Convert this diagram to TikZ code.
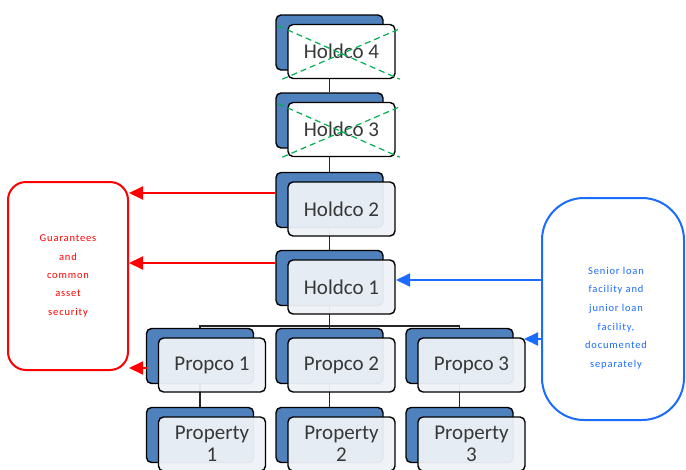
\documentclass[tikz,border=0pt]{standalone}
\usepackage{fontspec}
\setmainfont{Carlito}
\newfontfamily\notefont[LetterSpace=8]{Carlito}
\usetikzlibrary{arrows.meta,calc}
\definecolor{backblue}{HTML}{4F81BD}
\definecolor{frontfill}{HTML}{EEF2F8}
\definecolor{txtgray}{HTML}{383838}
\definecolor{xgreen}{HTML}{00B050}
\definecolor{notered}{HTML}{FF0000}
\definecolor{noteblue}{HTML}{1A6BFF}

\begin{document}
\begin{tikzpicture}[x=1pt,y=-1pt,
  backbox/.style={draw=black, line width=1.4pt, fill=backblue, rounded corners=5pt,
    minimum width=107pt, minimum height=55pt, inner sep=0pt},
  frontbox/.style={draw=black, line width=1.4pt, fill=frontfill, fill opacity=0.95,
    text opacity=1, rounded corners=5pt, minimum width=107pt, minimum height=54pt,
    inner sep=0pt, font=\fontsize{21}{22}\selectfont, text=txtgray, align=center},
  struck/.style={frontbox, fill=white, fill opacity=1},
  link/.style={draw=black!85, line width=1.8pt},
  cross/.style={draw=xgreen, line width=1.2pt, dash pattern=on 6pt off 4pt},
  redarrow/.style={draw=notered, line width=2pt, -{Triangle[length=14pt,width=13pt]}},
  bluearrow/.style={draw=noteblue, line width=2pt, -{Triangle[length=14pt,width=13pt]}},
  rednote/.style={draw=notered, line width=2pt, rounded corners=18pt, text=notered,
    font=\notefont\fontsize{10.5}{18.3}\selectfont, align=center},
  bluenote/.style={draw=noteblue, line width=2pt, rounded corners=42pt, text=noteblue,
    font=\notefont\fontsize{10.5}{18.6}\selectfont, align=center}
]
\useasboundingbox (0,0) rectangle (686,469);

% back (blue) layer of every stacked box
\node[backbox] (h4b) at (329.5,42.5) {};
\node[backbox] (h3b) at (329.5,120.5) {};
\node[backbox] (h2b) at (329.5,200) {};
\node[backbox] (h1b) at (329.5,278) {};
\node[backbox] (p1b) at (200,356) {};
\node[backbox] (p2b) at (329.5,356) {};
\node[backbox] (p3b) at (459.5,356) {};
\node[backbox] (q1b) at (200,435) {};
\node[backbox] (q2b) at (329.5,435) {};
\node[backbox] (q3b) at (459.5,435) {};

% ownership links
\coordinate (bus) at (329.5,326);
\draw[link] (h4b.south) -- (h3b.north);
\draw[link] (h3b.south) -- (h2b.north);
\draw[link] (h2b.south) -- (h1b.north);
\draw[link] (h1b.south) -- (bus);
\draw[link] (p1b.north) |- (bus) -| (p3b.north);
\draw[link] (bus) -- (p2b.north);
\draw[link] (p1b.south) -- (q1b.north);
\draw[link] (p2b.south) -- (q2b.north);
\draw[link] (p3b.south) -- (q3b.north);

% front layer with labels
\node[struck] (h4) at (341.5,51.5) {Holdco 4};
\node[struck] (h3) at (341.5,129.5) {Holdco 3};
\node[frontbox] (h2) at (341.5,209) {Holdco 2};
\node[frontbox] (h1) at (341.5,287) {Holdco 1};
\node[frontbox] (p1) at (212,365) {Propco 1};
\node[frontbox] (p2) at (341.5,365) {Propco 2};
\node[frontbox] (p3) at (471.5,365) {Propco 3};
\node[frontbox] (q1) at (212,444) {Property\\1};
\node[frontbox] (q2) at (341.5,444) {Property\\2};
\node[frontbox] (q3) at (471.5,444) {Property\\3};

% struck-out holding companies
\foreach \n in {h4,h3}{
  \draw[cross] ($(\n.north west)+(-9,2)$) -- ($(\n.south east)+(4,0)$);
  \draw[cross] ($(\n.south west)+(-5,0)$) -- ($(\n.north east)+(4,5)$);
}

% side notes
\node[rednote, minimum width=120pt, minimum height=188pt] (guar) at (68,276)
  {Guarantees\\and\\common\\asset\\security};
\node[bluenote, minimum width=142pt, minimum height=222pt] (loan) at (613,309) {};
\node[text=noteblue, font=\notefont\fontsize{10.5}{18.6}\selectfont, align=center]
  (loantext) at (616,318) {Senior loan\\facility and\\junior loan\\facility,\\documented\\separately};

% arrows from the group to the guarantee note
\coordinate (g2) at (275,193);
\coordinate (g1) at (275,263);
\coordinate (g0) at (147,368);
\draw[redarrow] (g2) -- (g2 -| guar.east);
\draw[redarrow] (g1) -- (g1 -| guar.east);
\draw[redarrow] (g0) -- (g0 -| guar.east);

% arrows from the loan note to the borrowers
\coordinate (l1) at (396,280);
\coordinate (l2) at (524,339);
\draw[bluearrow] (l1 -| loan.west) -- (l1);
\draw[bluearrow] (l2 -| loan.west) -- (l2);
\end{tikzpicture}
\end{document}
